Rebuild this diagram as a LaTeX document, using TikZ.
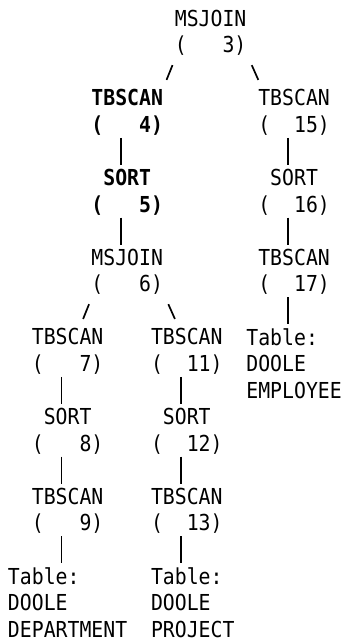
\documentclass[tikz,border=0pt]{standalone}
\usepackage{fontspec}
\usepackage{tikz}
\usetikzlibrary{calc}
\newfontfamily\planfont[FakeStretch=0.9]{DejaVu Sans Mono}
\newcommand\opno[1]{(\hphantom{0000}\llap{#1})}

\begin{document}
\begin{tikzpicture}[x=5.96pt, y=-13.28pt,
    plan/.style={font=\planfont\fontsize{11}{13.28}\selectfont, inner sep=0pt, outer sep=0pt, anchor=north west},
    op/.style={plan, align=center},
    hot/.style={op, font=\planfont\fontsize{11}{13.28}\selectfont\bfseries},
    tbl/.style={plan, align=left},
    bar/.style={line width=0.85pt, shorten <=1.3pt, shorten >=2.1pt},
    link/.style={line width=0.85pt}]

    \useasboundingbox (-4pt,13pt) rectangle (168.5pt,-308pt);

    % left branch
    \node (mj3) [op] at (14,-0.61) {MSJOIN\\\opno{3}};
    \node (tb4) [hot] at (7,2.39) {TBSCAN\\\opno{4}};
    \node (so5) [hot] at (7,5.39) {SORT\\\opno{5}};
    \node (mj6) [op] at (7,8.39) {MSJOIN\\\opno{6}};
    \node (tb7) [op] at (2,11.39) {TBSCAN\\\opno{7}};
    \node (so8) [op] at (2,14.39) {SORT\\\opno{8}};
    \node (tb9) [op] at (2,17.39) {TBSCAN\\\opno{9}};
    \node (dep) [tbl] at (0,20.39) {Table:\\DOOLE\\DEPARTMENT};
    \node (tb11) [op] at (12,11.39) {TBSCAN\\\opno{11}};
    \node (so12) [op] at (12,14.39) {SORT\\\opno{12}};
    \node (tb13) [op] at (12,17.39) {TBSCAN\\\opno{13}};
    \node (prj) [tbl] at (12,20.39) {Table:\\DOOLE\\PROJECT};
    % right branch
    \node (tb15) [op] at (21,2.39) {TBSCAN\\\opno{15}};
    \node (so16) [op] at (21,5.39) {SORT\\\opno{16}};
    \node (tb17) [op] at (21,8.39) {TBSCAN\\\opno{17}};
    \node (emp) [tbl] at (20,11.39) {Table:\\DOOLE\\EMPLOYEE};

    \foreach \a/\b in {tb4/so5, so5/mj6, tb7/so8, so8/tb9, tb9/dep, tb11/so12,
                       so12/tb13, tb13/prj, tb15/so16, so16/tb17, tb17/emp}
        \draw [bar] ($(\a.south)+(-0.5,0)$) -- ($(\a.south |- \b.north)+(-0.5,0)$);

    \foreach \p/\l/\r in {mj3/tb4/tb15, mj6/tb7/tb11} {
        \draw [link] ($(\p.south west)+(-0.2,0.36)$) -- ($(\p.south west |- \l.north)+(-0.7,-0.36)$);
        \draw [link] ($(\p.south east)+(0.45,0.36)$) -- ($(\p.south east |- \r.north)+(1.0,-0.36)$);
    }
\end{tikzpicture}
\end{document}
